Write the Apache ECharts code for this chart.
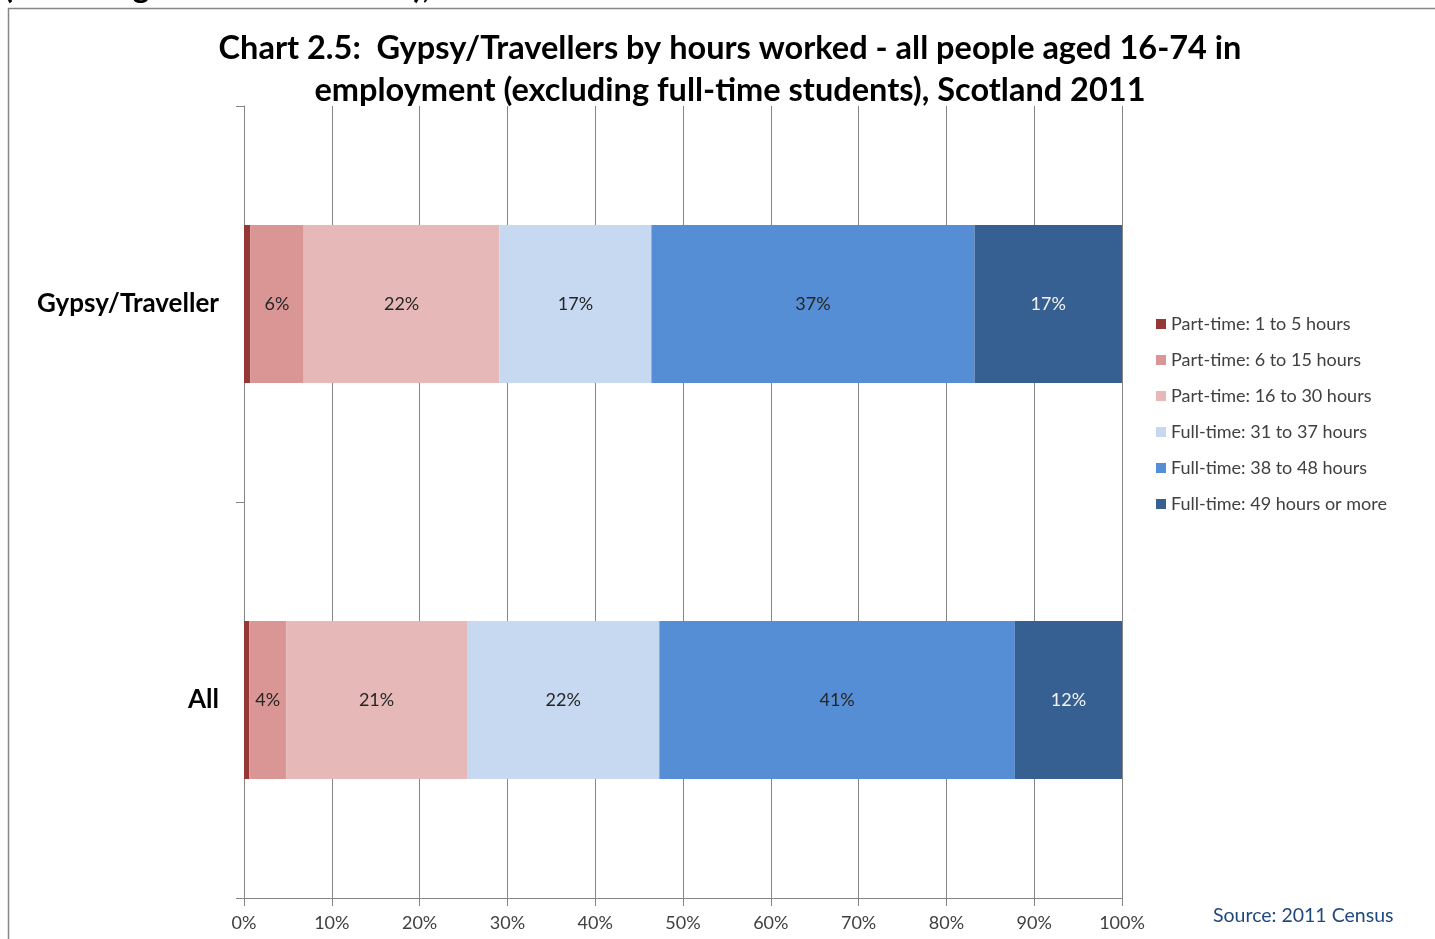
<!DOCTYPE html>
<html>
<head>
<meta charset="utf-8">
<script src="https://cdn.jsdelivr.net/npm/echarts@6/dist/echarts.min.js"></script>
<style>
  html, body { margin: 0; padding: 0; background: #fff; }
  #chart { width: 1435px; height: 939px; }
</style>
</head>
<body>
<div id="chart"></div>
<script>
const categories = ['Gypsy/Traveller', 'All']
const seriesNames = [
  'Part-time: 1 to 5 hours',
  'Part-time: 6 to 15 hours',
  'Part-time: 16 to 30 hours',
  'Full-time: 31 to 37 hours',
  'Full-time: 38 to 48 hours',
  'Full-time: 49 hours or more'
]
// percentages, [Gypsy/Traveller, All]
const pt1to5 = [0.7, 0.6]
const pt6to15 = [6.1, 4.2]
const pt16to30 = [22.3, 20.6]
const ft31to37 = [17.3, 21.9]
const ft38to48 = [36.8, 40.5]
const ft49plus = [16.8, 12.2]
const xTicks = [0, 10, 20, 30, 40, 50, 60, 70, 80, 90, 100]

const colors = ['#953735', '#D99694', '#E6B9B8', '#C6D9F1', '#558ED5', '#376092']
const values = [pt1to5, pt6to15, pt16to30, ft31to37, ft38to48, ft49plus]
const font = 'Lato, "Open Sans", sans-serif'

const chart = echarts.init(document.getElementById('chart'), null, { renderer: 'canvas' })

const series = values.map((data, i) => ({
  name: seriesNames[i],
  type: 'bar',
  stack: 'total',
  barWidth: 158,
  itemStyle: { color: colors[i] },
  label: {
    show: i > 0,
    position: 'inside',
    fontFamily: font,
    fontSize: 18,
    color: i === 5 ? '#f2f2f2' : '#262626',
    formatter: (p) => Math.round(p.value) + '%'
  },
  emphasis: { disabled: true },
  data: data
}))

const options = {
  backgroundColor: '#fff',
  animation: false,
  color: colors,
  textStyle: { fontFamily: font },
  title: {
    text: 'Chart 2.5:  Gypsy/Travellers by hours worked - all people aged 16-74 in\nemployment (excluding full-time students), Scotland 2011',
    left: 725,
    textAlign: 'center',
    top: 23,
    textStyle: { fontFamily: font, fontSize: 32.5, fontWeight: 'bold', color: '#000', lineHeight: 42 }
  },
  legend: {
    orient: 'vertical',
    left: 1151,
    top: 310,
    itemWidth: 10,
    itemHeight: 10,
    itemGap: 18,
    icon: 'rect',
    selectedMode: false,
    textStyle: { fontFamily: font, fontSize: 18, color: '#404040' },
    data: seriesNames
  },
  grid: { left: 244, right: 313, top: 106, bottom: 41 },
  xAxis: {
    type: 'value',
    min: 0,
    max: 100,
    interval: 10,
    axisLine: { show: true, lineStyle: { color: '#868686' } },
    axisTick: { show: true, length: 8, lineStyle: { color: '#868686' } },
    splitLine: { show: true, lineStyle: { color: '#868686', width: 1 } },
    axisLabel: {
      margin: 16,
      fontFamily: font,
      fontSize: 18,
      color: '#404040',
      formatter: (v) => xTicks.includes(v) ? v + '%' : ''
    }
  },
  yAxis: {
    type: 'category',
    inverse: true,
    data: categories,
    axisLine: { show: true, lineStyle: { color: '#868686' } },
    axisTick: { show: true, length: 8, lineStyle: { color: '#868686' } },
    axisLabel: {
      margin: 25,
      fontFamily: font,
      fontSize: 26,
      fontWeight: 'bold',
      color: '#000',
      padding: [4, 0, 0, 0]
    }
  },
  graphic: [
    {
      type: 'rect',
      shape: { x: 8.5, y: 8.5, width: 1500, height: 1000 },
      style: { fill: 'none', stroke: '#868686', lineWidth: 1.5 },
      silent: true
    },
    {
      type: 'text',
      x: 4,
      y: 4,
      style: {
        text: '(excluding full-time students), Scotland 2011',
        font: 'bold 32.5px ' + font,
        fill: '#000',
        verticalAlign: 'bottom'
      },
      silent: true
    },
    {
      type: 'text',
      left: 1213,
      top: 906,
      style: {
        text: 'Source: 2011 Census',
        font: '19.5px ' + font,
        fill: '#1F497D'
      },
      silent: true
    }
  ],
  series: series
}

chart.setOption(options)
</script>
</body>
</html>
